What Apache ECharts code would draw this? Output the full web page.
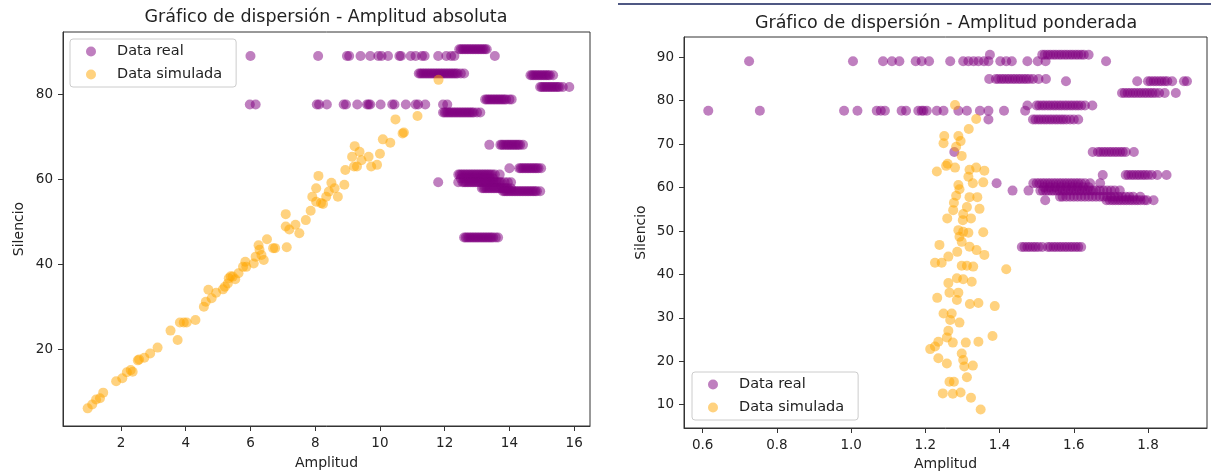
<!DOCTYPE html>
<html lang="es">
<head>
<meta charset="utf-8">
<title>Gráfico de dispersión</title>
<script src="https://cdn.jsdelivr.net/npm/echarts@6.0.0/dist/echarts.min.js"></script>
<style>
  html, body { margin: 0; padding: 0; background: #fff; }
  #chart { width: 1211px; height: 476px; }
</style>
</head>
<body>
<div id="chart"></div>
<script>
// ========================================
// Datos
// ========================================

// Nombres de las series
const seriesNames = ['Data real', 'Data simulada'];

// Ticks de los ejes
const xTicksAbs = [2, 4, 6, 8, 10, 12, 14, 16];
const yTicksAbs = [20, 40, 60, 80];
const xTicksPond = [0.6, 0.8, 1.0, 1.2, 1.4, 1.6, 1.8];
const yTicksPond = [10, 20, 30, 40, 50, 60, 70, 80, 90];

// Data real, amplitud absoluta: franjas [silencio, [amplitudes]]
const realAbsRows = [
  [89.0, [6.0, 8.09, 8.98, 9.05, 9.4, 9.7, 9.95, 10.05, 10.25, 10.6, 10.65, 10.95, 11.1, 11.3, 11.38, 11.8, 12.05, 12.2, 12.3, 13.55]],
  [90.6, [12.45, 12.5, 12.55, 12.6, 12.65, 12.7, 12.75, 12.8, 12.85, 12.9, 12.95, 13.0, 13.05, 13.1, 13.15, 13.2, 13.25, 13.3]],
  [84.9, [11.2, 11.25, 11.3, 11.35, 11.4, 11.45, 11.5, 11.55, 11.6, 11.65, 11.7, 11.75, 11.8, 11.85, 11.9, 11.95, 12.0, 12.05, 12.1, 12.15, 12.2, 12.25, 12.3, 12.35, 12.4, 12.5, 12.6]],
  [84.5, [14.65, 14.7, 14.75, 14.8, 14.85, 14.9, 14.95, 15.0, 15.05, 15.1, 15.15, 15.2, 15.25, 15.35]],
  [81.7, [14.95, 15.0, 15.05, 15.1, 15.15, 15.2, 15.25, 15.3, 15.35, 15.4, 15.45, 15.5, 15.55, 15.65, 15.85]],
  [78.8, [13.25, 13.3, 13.35, 13.4, 13.45, 13.5, 13.55, 13.6, 13.65, 13.7, 13.75, 13.8, 13.85, 13.9, 14.0, 14.07]],
  [77.6, [5.98, 6.16, 8.05, 8.12, 8.36, 8.88, 8.95, 9.3, 9.6, 9.65, 9.7, 10.02, 10.38, 10.45, 10.8, 11.1, 11.18, 11.4, 11.95, 12.08]],
  [75.7, [11.95, 12.0, 12.05, 12.1, 12.15, 12.2, 12.25, 12.3, 12.35, 12.4, 12.45, 12.5, 12.55, 12.6, 12.65, 12.7, 12.75, 12.8, 12.85, 12.9, 13.0, 13.1]],
  [68.1, [13.38, 13.72, 13.77, 13.82, 13.88, 13.93, 13.98, 14.03, 14.08, 14.13, 14.18, 14.23, 14.28, 14.33, 14.42]],
  [62.6, [14.0, 14.3, 14.35, 14.4, 14.45, 14.5, 14.55, 14.6, 14.65, 14.7, 14.75, 14.8, 14.85, 14.9, 14.98]],
  [61.1, [12.42, 12.47, 12.52, 12.57, 12.62, 12.67, 12.72, 12.77, 12.82, 12.87, 12.92, 12.97, 13.02, 13.07, 13.12, 13.17, 13.22, 13.27, 13.32, 13.37, 13.42, 13.48, 13.55, 13.7]],
  [60.2, [12.5, 12.6, 12.7, 12.8, 12.9, 13.0, 13.1, 13.2, 13.3, 13.4, 13.5]],
  [59.3, [11.8, 12.42, 12.55, 12.6, 12.65, 12.7, 12.75, 12.8, 12.85, 12.9, 12.95, 13.0, 13.05, 13.1, 13.15, 13.2, 13.25, 13.3, 13.35, 13.4, 13.45, 13.5, 13.55, 13.6, 13.65, 13.7, 13.75, 13.85, 13.95, 14.05]],
  [57.9, [13.15, 13.2, 13.25, 13.3, 13.35, 13.4, 13.45, 13.5, 13.55, 13.6, 13.65, 13.7, 13.75, 13.8, 13.85, 13.9, 13.95, 14.05]],
  [57.2, [13.8, 13.85, 13.9, 13.95, 14.0, 14.05, 14.1, 14.15, 14.2, 14.25, 14.3, 14.35, 14.4, 14.45, 14.5, 14.55, 14.6, 14.65, 14.7, 14.75, 14.8, 14.85, 14.95]],
  [46.3, [12.6, 12.65, 12.7, 12.75, 12.8, 12.85, 12.9, 12.95, 13.0, 13.05, 13.1, 13.15, 13.2, 13.25, 13.3, 13.35, 13.4, 13.45, 13.5, 13.58, 13.65]]
];

// Data simulada, amplitud absoluta: [amplitud, silencio]
const simAbs = [
  [0.97, 6.1], [1.11, 7.0], [1.23, 8.2], [1.35, 8.5], [1.45, 9.8], [1.85, 12.5], [2.04, 13.2],
  [2.18, 14.6], [2.3, 15.1], [2.36, 14.7], [2.52, 17.4], [2.56, 17.6], [2.72, 18.0], [2.9, 19.0],
  [3.13, 20.4], [3.53, 24.4], [3.75, 22.2], [3.82, 26.3], [3.94, 26.3], [4.03, 26.3], [4.3, 26.9],
  [4.56, 30.0], [4.62, 31.2], [4.7, 34.0], [4.8, 32.0], [4.94, 33.3], [5.15, 34.1], [5.21, 34.7],
  [5.3, 35.5], [5.33, 36.7], [5.39, 37.2], [5.45, 37.1], [5.53, 36.5], [5.63, 37.9], [5.77, 39.4],
  [5.84, 40.6], [5.87, 39.4], [6.1, 40.2], [6.16, 41.8], [6.25, 44.5], [6.28, 43.4], [6.34, 42.2],
  [6.41, 41.0], [6.51, 45.9], [6.7, 43.8], [6.76, 43.8], [7.09, 51.8], [7.09, 48.9], [7.12, 44.0],
  [7.2, 48.2], [7.39, 49.3], [7.51, 47.3], [7.71, 50.4], [7.86, 52.6], [7.91, 55.9], [8.03, 57.9],
  [8.03, 54.7], [8.1, 60.8], [8.18, 54.4], [8.24, 54.2], [8.34, 55.9], [8.42, 57.1], [8.5, 59.2],
  [8.6, 57.9], [8.7, 55.9], [8.9, 58.7], [8.93, 62.2], [9.2, 63.0], [9.14, 65.3], [9.22, 67.8],
  [9.29, 63.0], [9.37, 66.5], [9.43, 64.5], [9.65, 65.3], [9.73, 63.0], [9.91, 63.4], [10.0, 66.0],
  [10.09, 69.4], [10.32, 68.6], [10.48, 74.1], [10.7, 70.8], [10.74, 71.0], [11.16, 74.9], [11.81, 83.4]
];

// Data real, amplitud ponderada: franjas [silencio, [amplitudes]]
const realPondRows = [
  [89.1, [0.725, 1.005, 1.086, 1.11, 1.13, 1.174, 1.19, 1.21, 1.267, 1.302, 1.316, 1.33, 1.343, 1.358, 1.37, 1.402, 1.418, 1.433, 1.475, 1.503, 1.524, 1.687]],
  [90.6, [1.374, 1.515, 1.522, 1.53, 1.537, 1.545, 1.552, 1.56, 1.567, 1.575, 1.582, 1.59, 1.597, 1.605, 1.612, 1.62, 1.627, 1.64]],
  [85.0, [1.372, 1.39, 1.397, 1.405, 1.412, 1.42, 1.427, 1.435, 1.442, 1.45, 1.457, 1.465, 1.472, 1.48, 1.49, 1.505, 1.525]],
  [84.5, [1.579, 1.771, 1.8, 1.807, 1.815, 1.822, 1.83, 1.837, 1.845, 1.852, 1.865, 1.897, 1.905]],
  [81.8, [1.73, 1.737, 1.745, 1.752, 1.76, 1.767, 1.775, 1.782, 1.79, 1.797, 1.805, 1.812, 1.82, 1.83, 1.845, 1.875]],
  [78.9, [1.475, 1.5, 1.507, 1.515, 1.522, 1.53, 1.537, 1.545, 1.552, 1.56, 1.567, 1.575, 1.582, 1.59, 1.597, 1.605, 1.612, 1.62, 1.63, 1.65]],
  [77.7, [0.615, 0.754, 0.981, 1.017, 1.069, 1.08, 1.091, 1.136, 1.148, 1.181, 1.19, 1.195, 1.204, 1.231, 1.249, 1.289, 1.312, 1.347, 1.37, 1.412, 1.469]],
  [75.7, [1.37, 1.49, 1.497, 1.505, 1.512, 1.52, 1.527, 1.535, 1.542, 1.55, 1.557, 1.565, 1.572, 1.58, 1.59, 1.6, 1.612]],
  [68.2, [1.278, 1.651, 1.665, 1.672, 1.68, 1.687, 1.695, 1.702, 1.71, 1.717, 1.725, 1.732, 1.74, 1.762]],
  [62.9, [1.678, 1.74, 1.747, 1.755, 1.762, 1.77, 1.777, 1.785, 1.792, 1.8, 1.81, 1.825, 1.85]],
  [61.0, [1.392, 1.491, 1.5, 1.507, 1.515, 1.522, 1.53, 1.537, 1.545, 1.552, 1.56, 1.567, 1.575, 1.582, 1.59, 1.597, 1.605, 1.612, 1.62, 1.63, 1.644, 1.671]],
  [60.1, [1.52, 1.535, 1.55, 1.565, 1.58, 1.595, 1.61, 1.625, 1.64]],
  [59.3, [1.435, 1.478, 1.51, 1.517, 1.525, 1.532, 1.54, 1.547, 1.555, 1.562, 1.57, 1.577, 1.585, 1.592, 1.6, 1.607, 1.615, 1.622, 1.63, 1.637, 1.645, 1.652, 1.66, 1.67, 1.68, 1.69, 1.7, 1.71, 1.724]],
  [57.9, [1.563, 1.57, 1.58, 1.59, 1.6, 1.61, 1.62, 1.63, 1.64, 1.65, 1.66, 1.67, 1.68, 1.69, 1.7, 1.71, 1.72, 1.73, 1.74, 1.75, 1.76, 1.779]],
  [57.1, [1.523, 1.688, 1.697, 1.705, 1.712, 1.72, 1.727, 1.735, 1.742, 1.75, 1.757, 1.765, 1.772, 1.78, 1.79, 1.797, 1.815]],
  [46.3, [1.46, 1.467, 1.475, 1.482, 1.49, 1.497, 1.505, 1.515, 1.53, 1.537, 1.545, 1.552, 1.56, 1.567, 1.575, 1.582, 1.59, 1.597, 1.605, 1.612, 1.62]]
];

// Data simulada, amplitud ponderada: [amplitud, silencio]
const simPond = [
  [1.28, 79.0], [1.337, 75.8], [1.317, 73.5], [1.251, 71.9], [1.289, 71.9], [1.249, 70.2], [1.295, 70.7],
  [1.283, 69.4], [1.298, 67.3], [1.231, 63.7], [1.256, 65.0], [1.26, 65.5], [1.28, 64.6], [1.319, 64.1],
  [1.337, 64.6], [1.359, 63.9], [1.316, 62.5], [1.328, 61.0], [1.356, 61.2], [1.289, 60.6], [1.292, 59.6],
  [1.283, 58.1], [1.319, 57.8], [1.34, 57.8], [1.277, 56.5], [1.346, 55.1], [1.312, 55.5], [1.275, 54.8],
  [1.302, 53.9], [1.323, 52.9], [1.259, 52.9], [1.301, 52.5], [1.289, 50.2], [1.302, 49.8], [1.316, 49.6],
  [1.356, 49.7], [1.292, 48.7], [1.298, 47.5], [1.238, 46.8], [1.319, 46.4], [1.338, 45.6], [1.359, 44.5],
  [1.286, 45.2], [1.262, 44.1], [1.226, 42.7], [1.244, 42.7], [1.298, 42.0], [1.312, 42.0], [1.329, 41.8],
  [1.418, 41.2], [1.285, 39.1], [1.302, 38.9], [1.262, 38.0], [1.325, 38.3], [1.265, 35.8], [1.289, 35.8],
  [1.232, 34.6], [1.285, 34.1], [1.32, 33.2], [1.343, 33.4], [1.387, 32.7], [1.249, 31.0], [1.271, 31.0],
  [1.267, 29.5], [1.292, 28.9], [1.262, 27.0], [1.258, 25.5], [1.235, 24.5], [1.213, 22.8], [1.226, 23.4],
  [1.274, 24.3], [1.309, 24.3], [1.343, 24.5], [1.381, 25.8], [1.298, 21.8], [1.302, 20.3], [1.305, 18.8],
  [1.328, 19.0], [1.235, 20.7], [1.258, 19.5], [1.312, 16.3], [1.265, 15.3], [1.277, 15.3], [1.247, 12.6],
  [1.274, 12.5], [1.295, 12.8], [1.323, 11.6], [1.349, 8.9]
];

// franjas -> pares [x, y]
function rowsToPoints(rows) {
  const pts = [];
  rows.forEach(function(row) {
    row[1].forEach(function(x) { pts.push([x, row[0]]); });
  });
  return pts;
}

// ========================================
// Estilos
// ========================================
const FONT = 'DejaVu Sans';
const PURPLE = '#800080';
const ORANGE = '#ffa500';
const INK = '#222';
const FRAME = '#333';

function makeXAxis(gridIndex, min, max, ticks, nameGap, fmt) {
  return {
    gridIndex: gridIndex,
    type: 'value',
    min: min,
    max: max,
    name: 'Amplitud',
    nameLocation: 'middle',
    nameGap: nameGap,
    nameTextStyle: { color: INK, fontSize: 14, fontFamily: FONT },
    splitLine: { show: false },
    axisLine: { onZero: false, lineStyle: { color: FRAME, width: 1 } },
    axisTick: { customValues: ticks, length: 5, lineStyle: { color: FRAME } },
    axisLabel: { customValues: ticks, margin: 10, color: INK, fontSize: 13.5, fontFamily: FONT, formatter: fmt }
  };
}

function makeYAxis(gridIndex, min, max, ticks, nameGap) {
  return {
    gridIndex: gridIndex,
    type: 'value',
    min: min,
    max: max,
    name: 'Silencio',
    nameLocation: 'middle',
    nameGap: nameGap,
    nameTextStyle: { color: INK, fontSize: 14, fontFamily: FONT },
    splitLine: { show: false },
    axisLine: { onZero: false, lineStyle: { color: FRAME, width: 1 } },
    axisTick: { customValues: ticks, length: 5, lineStyle: { color: FRAME } },
    axisLabel: { customValues: ticks, margin: 10, color: INK, fontSize: 13.5, fontFamily: FONT }
  };
}

function makeLegend(left, top) {
  return {
    data: seriesNames,
    orient: 'vertical',
    left: left,
    top: top,
    icon: 'circle',
    itemWidth: 10,
    itemHeight: 10,
    itemGap: 8,
    padding: [5, 14, 5, 16],
    borderColor: '#cccccc',
    borderWidth: 1,
    borderRadius: 3,
    backgroundColor: 'rgba(255,255,255,0.8)',
    selectedMode: false,
    itemStyle: { opacity: 0.5 },
    textStyle: { color: INK, fontSize: 14.5, fontFamily: FONT, padding: [0, 0, 0, 16] }
  };
}

function scatter(name, color, idx, data) {
  return {
    name: name,
    type: 'scatter',
    xAxisIndex: idx,
    yAxisIndex: idx,
    data: data,
    symbol: 'circle',
    symbolSize: 10,
    itemStyle: { color: color, opacity: 0.5 },
    emphasis: { disabled: true }
  };
}

// ========================================
// Gráfico
// ========================================
const myChart = echarts.init(document.getElementById('chart'));

const option = {
  backgroundColor: '#fff',
  animation: false,
  textStyle: { fontFamily: FONT },
  graphic: [
    {
      type: 'line',
      shape: { x1: 618, y1: 4, x2: 1211, y2: 4 },
      style: { stroke: '#15205a', lineWidth: 1.5 }
    },
    {
      type: 'text',
      x: 326, y: 17,
      style: {
        text: 'Gráfico de dispersión - Amplitud absoluta',
        fill: INK, font: '17.5px "DejaVu Sans"', align: 'center', verticalAlign: 'middle'
      }
    },
    {
      type: 'text',
      x: 946, y: 23,
      style: {
        text: 'Gráfico de dispersión - Amplitud ponderada',
        fill: INK, font: '17.5px "DejaVu Sans"', align: 'center', verticalAlign: 'middle'
      }
    }
  ],
  legend: [makeLegend(70, 39), makeLegend(692, 372)],
  grid: [
    { left: 63, top: 32, width: 527, height: 394, show: true, borderColor: FRAME, borderWidth: 1, backgroundColor: 'transparent' },
    { left: 684, top: 37, width: 523, height: 391, show: true, borderColor: FRAME, borderWidth: 1, backgroundColor: 'transparent' }
  ],
  xAxis: [
    makeXAxis(0, 0.208, 16.49, xTicksAbs, 30, function(v) { return String(v); }),
    makeXAxis(1, 0.5496, 1.959, xTicksPond, 28, function(v) { return v.toFixed(1); })
  ],
  yAxis: [
    makeYAxis(0, 1.95, 94.66, yTicksAbs, 37),
    makeYAxis(1, 4.63, 94.68, yTicksPond, 36)
  ],
  series: [
    scatter(seriesNames[0], PURPLE, 0, rowsToPoints(realAbsRows)),
    scatter(seriesNames[1], ORANGE, 0, simAbs),
    scatter(seriesNames[0], PURPLE, 1, rowsToPoints(realPondRows)),
    scatter(seriesNames[1], ORANGE, 1, simPond)
  ]
};

myChart.setOption(option);
</script>
</body>
</html>
